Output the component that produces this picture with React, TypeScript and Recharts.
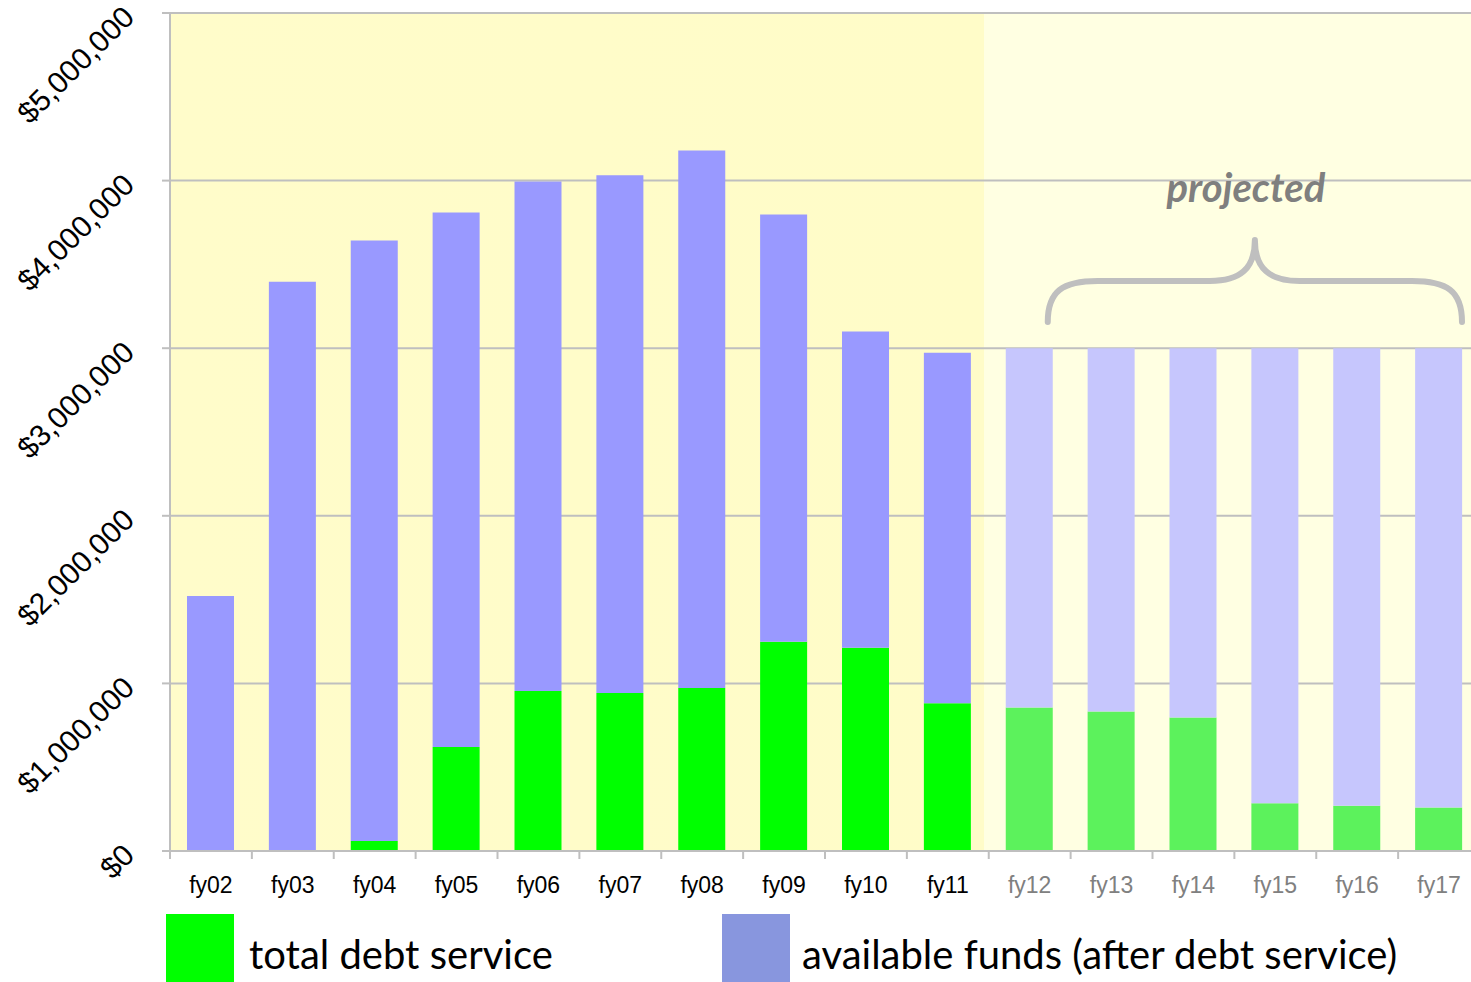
import React from "react";
import { BarChart, Bar, Cell, XAxis, YAxis, CartesianGrid, ReferenceArea } from "recharts";

const years = [
  "fy02", "fy03", "fy04", "fy05", "fy06", "fy07", "fy08", "fy09",
  "fy10", "fy11", "fy12", "fy13", "fy14", "fy15", "fy16", "fy17",
];
const debtService = [
  0, 0, 60000, 621000, 955000, 943000, 973000, 1248000,
  1212000, 882000, 856000, 832000, 796000, 285000, 270000, 260000,
];
const availableFunds = [
  1522000, 3397000, 3582000, 3188000, 3039000, 3089000, 3207000, 2549000,
  1887000, 2091000, 2144000, 2168000, 2204000, 2715000, 2730000, 2740000,
];
const yTicks = [0, 1000000, 2000000, 3000000, 4000000, 5000000];
const firstProjected = 10;

const data = years.map((year, i) => ({
  year,
  debt: debtService[i],
  available: availableFunds[i],
}));

const CHART_W = 1480;
const CHART_H = 982;
const Y_AXIS_W = 170;
const BAND = (CHART_W - Y_AXIS_W) / years.length;
const GRAY = "#BFBFBF";

const fmt = (v: number) => "$" + v.toLocaleString("en-US");

function YTick(props: any) {
  const { x, y, payload } = props;
  const px = x - 26;
  const py = y + 6;
  return (
    <text
      x={px}
      y={py}
      transform={`rotate(-45 ${px} ${py})`}
      textAnchor="end"
      fontSize={30}
      fontFamily="'Liberation Sans', Arial, sans-serif"
      fill="#000"
    >
      {fmt(payload.value)}
    </text>
  );
}

function XTick(props: any) {
  const { x, y, payload, index } = props;
  const half = BAND / 2;
  const projected = index >= firstProjected;
  return (
    <g>
      <line x1={x - half} x2={x - half} y1={y} y2={y + 8} stroke={GRAY} strokeWidth={2} />
      {index === years.length - 1 && (
        <line x1={x + half} x2={x + half} y1={y} y2={y + 8} stroke={GRAY} strokeWidth={2} />
      )}
      <text
        x={x}
        y={y + 42}
        textAnchor="middle"
        fontSize={23}
        fontFamily="'Liberation Sans', Arial, sans-serif"
        fill={projected ? "#808080" : "#000"}
      >
        {payload.value}
      </text>
    </g>
  );
}

// curly brace + "projected" caption over the forecast years
function Brace(props: any) {
  const { x, y, width, height } = props;
  const L = x + 59;
  const R = x + width - 18;
  const M = (L + R) / 2;
  const top = y;
  const bot = y + height;
  const mid = (top + bot) / 2;
  const d =
    `M ${L} ${bot} C ${L} ${mid + 10} ${L + 15} ${mid} ${L + 50} ${mid} ` +
    `L ${M - 45} ${mid} C ${M - 15} ${mid} ${M} ${mid - 12} ${M} ${top} ` +
    `C ${M} ${mid - 12} ${M + 15} ${mid} ${M + 45} ${mid} ` +
    `L ${R - 50} ${mid} C ${R - 15} ${mid} ${R} ${mid + 10} ${R} ${bot}`;
  return (
    <g>
      <path d={d} fill="none" stroke={GRAY} strokeWidth={6} strokeLinecap="round" strokeLinejoin="round" />
      <text
        x={M - 9}
        y={top - 38}
        textAnchor="middle"
        fontSize={40}
        fontWeight="bold"
        fontStyle="italic"
        fontFamily="Lato, 'Noto Sans', sans-serif"
        fill="#7F7F7F"
      >
        projected
      </text>
    </g>
  );
}

export default function App() {
  const split = (firstProjected * BAND - 5) / (CHART_W - Y_AXIS_W);
  return (
    <div
      style={{
        position: "absolute",
        left: 0,
        top: 0,
        width: 1471,
        height: 982,
        overflow: "hidden",
        background: "#fff",
      }}
    >
      <BarChart
        width={CHART_W}
        height={CHART_H}
        data={data}
        margin={{ top: 13, right: 0, bottom: 71, left: 0 }}
        barSize={47}
      >
        <defs>
          <linearGradient id="bgFill" x1="0" y1="0" x2="1" y2="0">
            <stop offset={0} stopColor="#FFFCCA" />
            <stop offset={split} stopColor="#FFFCC8" />
            <stop offset={split} stopColor="#FFFFE2" />
            <stop offset={1} stopColor="#FFFFE2" />
          </linearGradient>
        </defs>
        <CartesianGrid vertical={false} stroke={GRAY} strokeWidth={2} fill="url(#bgFill)" />
        <XAxis
          dataKey="year"
          height={60}
          interval={0}
          tickSize={0}
          tickMargin={0}
          tickLine={false}
          axisLine={{ stroke: GRAY, strokeWidth: 2 }}
          tick={<XTick />}
        />
        <YAxis
          width={Y_AXIS_W}
          domain={[0, 5000000]}
          ticks={yTicks}
          interval={0}
          tickSize={8}
          tickMargin={0}
          axisLine={{ stroke: GRAY, strokeWidth: 2 }}
          tickLine={{ stroke: GRAY, strokeWidth: 2 }}
          tick={<YTick />}
        />
        <Bar dataKey="debt" stackId="a" isAnimationActive={false}>
          {data.map((_, i) => (
            <Cell key={i} fill={i >= firstProjected ? "#5CF25C" : "#00FF00"} />
          ))}
        </Bar>
        <Bar dataKey="available" stackId="a" isAnimationActive={false}>
          {data.map((_, i) => (
            <Cell key={i} fill={i >= firstProjected ? "#C6C6FD" : "#9999FF"} />
          ))}
        </Bar>
        <ReferenceArea
          x1="fy12"
          x2="fy17"
          y1={3156000}
          y2={3646000}
          shape={<Brace />}
          ifOverflow="visible"
        />
      </BarChart>
      <div style={{ position: "absolute", left: 166, top: 914, width: 68, height: 68, background: "#00FF00" }} />
      <div
        style={{
          position: "absolute",
          left: 249,
          top: 930,
          fontFamily: "Lato, 'Noto Sans', sans-serif",
          fontSize: 40,
          lineHeight: "48px",
          color: "#000",
          whiteSpace: "nowrap",
        }}
      >
        total debt service
      </div>
      <div style={{ position: "absolute", left: 722, top: 914, width: 68, height: 68, background: "#8896DE" }} />
      <div
        style={{
          position: "absolute",
          left: 802,
          top: 930,
          fontFamily: "Lato, 'Noto Sans', sans-serif",
          fontSize: 40,
          lineHeight: "48px",
          color: "#000",
          whiteSpace: "nowrap",
        }}
      >
        available funds (after debt service)
      </div>
    </div>
  );
}
